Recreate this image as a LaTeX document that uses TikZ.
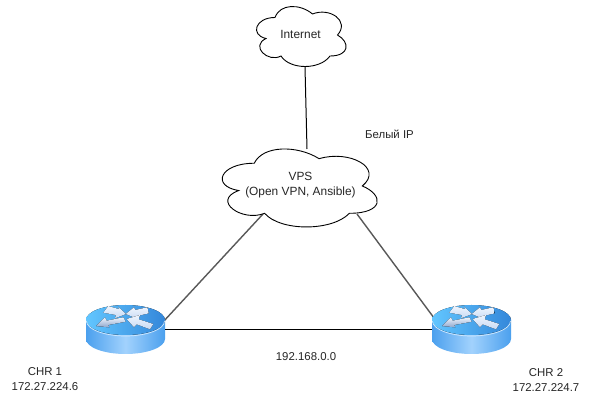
\documentclass[tikz,border=0pt]{standalone}
\usepackage{fontspec}
\setmainfont{Liberation Sans}
\newcommand{\cloudpath}[4]{% x y w h
  \draw[cloudline,fill=white,shift={(#1,#2)},x=#3pt,y=-#4pt]
   (0.25,0.25) .. controls (0.05,0.25) and (0,0.5) .. (0.16,0.55)
   .. controls (0,0.66) and (0.18,0.9) .. (0.31,0.8)
   .. controls (0.4,1) and (0.7,1) .. (0.8,0.8)
   .. controls (1,0.8) and (1,0.6) .. (0.875,0.5)
   .. controls (1,0.3) and (0.8,0.1) .. (0.625,0.2)
   .. controls (0.5,0.05) and (0.3,0.05) .. (0.25,0.25) -- cycle;}
\newcommand{\routerart}[1]{%
 \begin{scope}[xshift=#1pt]
  \path[left color=routerA,right color=routerA,middle color=routerB]
    (86,320) -- (86,339) arc[start angle=180,end angle=0,x radius=39.5,y radius=15] -- (165,320) -- cycle;
  \fill[left color=routerTopL,right color=routerTopR] (125.5,320) ellipse[x radius=39.5,y radius=15];
  \draw[white!50!routerB,line width=0.7pt] (86.5,321) arc[start angle=180,end angle=0,x radius=39,y radius=15];
  \fill[arrowlight] (108.3,306) -- (119.3,309.3) -- (118,306.7) -- (126,314) -- (115,318.3) -- (116,315) -- (103.3,312.7) -- cycle;
  \fill[arrowdark] (96,326) -- (105,317.3) -- (106.7,320.7) -- (123.3,317.3) -- (125.7,321.7) -- (108.3,325) -- (109.3,327.3) -- cycle;
  \fill[arrowlight] (125.7,314) -- (134,307.3) -- (135.3,310) -- (147.3,307.3) -- (148.7,313.3) -- (137.3,316) -- (138.7,319.3) -- cycle;
  \fill[arrowlight] (126.7,319) -- (140,315) -- (138.7,319.3) -- (153.3,324) -- (150,329.3) -- (136.7,324.3) -- (134,327.3) -- cycle;
 \end{scope}}
\tikzset{
  cloudline/.style={draw=black,line width=0.9pt},
  lbl/.style={font=\fontsize{11.4}{15}\selectfont,align=center,inner sep=0pt,text=black!85},
  cloudlbl/.style={lbl,font=\fontsize{11.9}{15}\selectfont},
  routerbox/.style={minimum width=79pt,minimum height=49pt,inner sep=0pt,draw=none},
  wire/.style={draw=black,line width=1pt},
  wiregrey/.style={draw=black!65,line width=1.4pt},
  arrowlight/.style={top color=arrowA,bottom color=arrowB},
  arrowdark/.style={top color=arrowA,bottom color=arrowC}
}
\definecolor{routerA}{HTML}{4BA0EE}
\definecolor{routerB}{HTML}{A2D2FD}
\definecolor{routerTopL}{HTML}{62C6FF}
\definecolor{routerTopR}{HTML}{3487DA}
\definecolor{arrowA}{HTML}{EEF4FD}
\definecolor{arrowB}{HTML}{C8DAF4}
\definecolor{arrowC}{HTML}{8FA6CC}
\begin{document}
\begin{tikzpicture}[x=1pt,y=-1pt]
\useasboundingbox (0,0) rectangle (590,401);
\fill[white] (0,0) rectangle (590,401);
\coordinate (inetB) at (305,67);
\coordinate (vpsT) at (307,149);
\coordinate (vpsL) at (263,214);
\coordinate (vpsR) at (357,214);
\coordinate (r1T) at (163,322);
\coordinate (r2T) at (437,322);
\draw[wire] (inetB) -- (vpsT);
\draw[wiregrey] (vpsL) -- (r1T);
\draw[wiregrey] (vpsR) -- (r2T);
\cloudpath{250}{0}{100}{70}
\cloudpath{211}{140.5}{173}{91}
\routerart{0}
\routerart{346}
\node[routerbox] (r1) at (125.5,329.5) {};
\node[routerbox] (r2) at (471.5,329.5) {};
\draw[wire] (r1.east) -- (r2.west);
\node[cloudlbl] (inet) at (300.5,34) {Internet};
\node[cloudlbl] (vps) at (300.5,185) {VPS\\(Open VPN, Ansible)};
\node[lbl] (ip) at (389.5,134) {Белый IP};
\node[lbl] (net) at (306,357) {192.168.0.0};
\node[lbl] (c1) at (45,379) {CHR 1\\172.27.224.6};
\node[lbl] (c2) at (546,380) {CHR 2\\172.27.224.7};
\end{tikzpicture}
\end{document}
